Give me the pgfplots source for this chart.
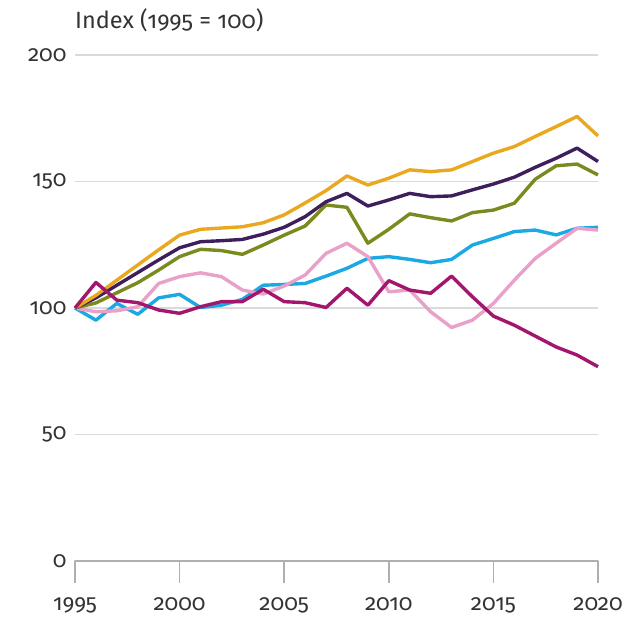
\documentclass[border=0pt]{standalone}
\usepackage{pgfplots}
\pgfplotsset{compat=1.18}
\usepackage{fontspec}
\setmainfont[Numbers=OldStyle]{Fira Sans}

\definecolor{cOrange}{HTML}{E9A81E}
\definecolor{cPurple}{HTML}{3E1F5B}
\definecolor{cOlive}{HTML}{7A8A1F}
\definecolor{cBlue}{HTML}{1BA9E3}
\definecolor{cPink}{HTML}{E9A0C9}
\definecolor{cMagenta}{HTML}{A3166E}
\definecolor{cGrid}{HTML}{DADADA}
\definecolor{cAxis}{HTML}{AFAFAF}
\definecolor{cText}{HTML}{333333}

\begin{document}
\begin{tikzpicture}
\path[use as bounding box] (-75pt,-60pt) rectangle (550pt,561pt);
\begin{axis}[
  at={(0pt,0pt)}, anchor=south west,
  scale only axis,
  width=523pt, height=506pt,
  xmin=1995, xmax=2020,
  ymin=0, ymax=200,
  xtick={1995,2000,...,2020},
  ytick={0,50,100,150,200},
  axis line style={draw=none},
  ymajorgrids=true,
  grid style={cGrid, line width=1.6pt},
  xtick pos=bottom,
  ytick pos=left,
  tick align=outside,
  xtick style={draw=none},
  ytick style={draw=none},
  major tick length=18pt,
  tick label style={font=\fontsize{22.5}{26}\selectfont, text=cText},
  xticklabel style={yshift=-15pt},
  yticklabel style={xshift=13pt},
  /pgf/number format/assume math mode=true,
  xticklabel={\pgfmathprintnumber[1000 sep={}]{\tick}},
  every axis plot/.style={line width=3.4pt, line join=round, no markers},
  clip=false,
]
% baseline and tick marks
\addplot[cAxis, line width=1.5pt, line cap=round, forget plot] coordinates {(1995,0)(2020,0)};
\addplot[cAxis, line width=1.5pt, forget plot] coordinates {
  (1995,0)(1995,-8.5)

  (2000,0)(2000,-8.5)

  (2005,0)(2005,-8.5)

  (2010,0)(2010,-8.5)

  (2015,0)(2015,-8.5)

  (2020,0)(2020,-8.5)
};

\addplot[cBlue] coordinates {
  (1995,100)(1996,95.2)(1997,101.8)(1998,97.5)(1999,104)(2000,105.4)
  (2001,100.2)(2002,101.1)(2003,103.4)(2004,109)(2005,109.3)(2006,109.7)
  (2007,112.6)(2008,115.7)(2009,119.6)(2010,120.3)(2011,119.2)(2012,117.9)
  (2013,119.2)(2014,124.9)(2015,127.5)(2016,130.2)(2017,130.8)(2018,128.9)
  (2019,131.5)(2020,131.9)
};
\addplot[cPink] coordinates {
  (1995,100)(1996,98.5)(1997,98.9)(1998,100.5)(1999,109.7)(2000,112.4)
  (2001,113.9)(2002,112.4)(2003,107.1)(2004,105.5)(2005,108.7)(2006,113)
  (2007,121.6)(2008,125.6)(2009,120.3)(2010,106.4)(2011,107.1)(2012,98.5)
  (2013,92.3)(2014,95.2)(2015,101.8)(2016,111)(2017,119.6)(2018,125.6)
  (2019,131.5)(2020,130.8)
};
\addplot[cOlive] coordinates {
  (1995,100)(1996,102)(1997,106)(1998,110)(1999,115)(2000,120.3)
  (2001,123.2)(2002,122.7)(2003,121.2)(2004,124.9)(2005,128.8)(2006,132.4)
  (2007,140.7)(2008,139.8)(2009,125.6)(2010,131.1)(2011,137.2)(2012,135.7)
  (2013,134.4)(2014,137.7)(2015,138.7)(2016,141.4)(2017,150.9)(2018,156.2)
  (2019,156.9)(2020,152.6)
};
\addplot[cPurple] coordinates {
  (1995,100)(1996,104)(1997,109)(1998,114)(1999,119)(2000,123.8)
  (2001,126.2)(2002,126.6)(2003,127.1)(2004,129.2)(2005,131.9)(2006,136.1)
  (2007,142)(2008,145.3)(2009,140.3)(2010,142.7)(2011,145.3)(2012,144)
  (2013,144.3)(2014,146.7)(2015,149)(2016,151.7)(2017,155.6)(2018,159.2)
  (2019,163.2)(2020,157.9)
};
\addplot[cOrange] coordinates {
  (1995,100)(1996,105)(1997,111)(1998,117)(1999,123)(2000,128.8)
  (2001,131.1)(2002,131.6)(2003,132.1)(2004,133.7)(2005,136.8)(2006,141.5)
  (2007,146.4)(2008,152.2)(2009,148.6)(2010,151.3)(2011,154.6)(2012,153.9)
  (2013,154.6)(2014,157.9)(2015,161.2)(2016,163.8)(2017,167.8)(2018,171.7)
  (2019,175.7)(2020,168)
};
\addplot[cMagenta] coordinates {
  (1995,100)(1996,110.1)(1997,103.1)(1998,102.1)(1999,99.2)(2000,97.9)
  (2001,100.5)(2002,102.5)(2003,102.5)(2004,107.4)(2005,102.5)(2006,102.1)
  (2007,100.2)(2008,107.8)(2009,101.1)(2010,110.8)(2011,107.1)(2012,105.8)
  (2013,112.6)(2014,104.4)(2015,96.8)(2016,93.2)(2017,88.9)(2018,84.6)
  (2019,81.4)(2020,76.8)
};

\node[anchor=base west, font=\fontsize{23.5}{28}\selectfont, text=cText, inner sep=0pt]
  at ([yshift=26pt]rel axis cs:0,1) {Index (1995 = 100)};
\end{axis}
\end{tikzpicture}
\end{document}
